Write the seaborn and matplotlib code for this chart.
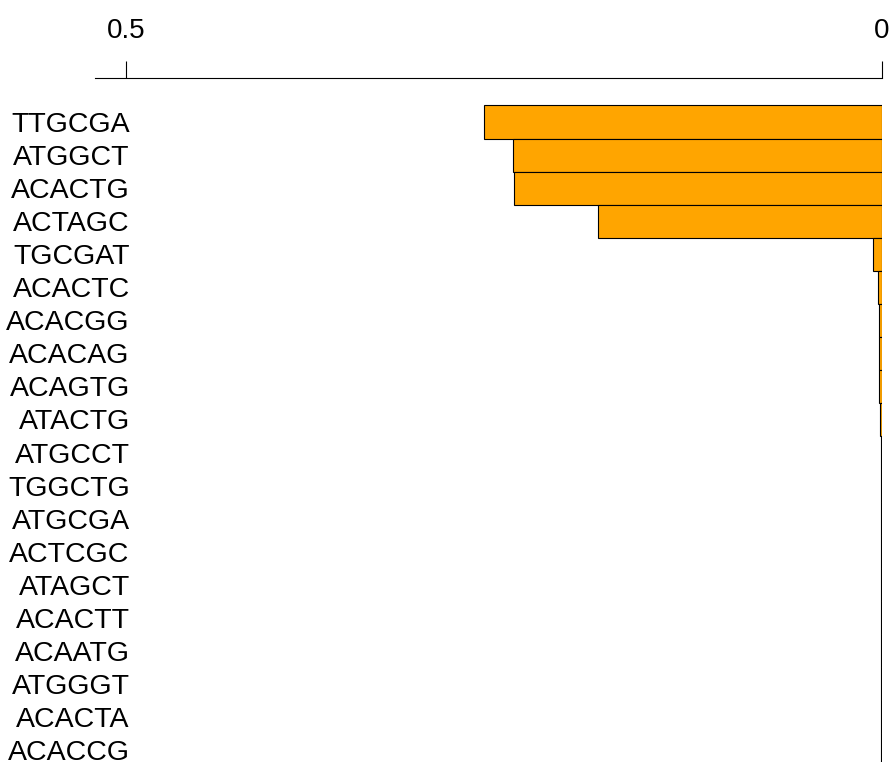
import matplotlib
matplotlib.use("Agg")
import matplotlib.pyplot as plt
import seaborn as sns
import pandas as pd

# motifs, top to bottom
motifs = ["TTGCGA", "ATGGCT", "ACACTG", "ACTAGC", "TGCGAT", "ACACTC", "ACACGG",
          "ACACAG", "ACAGTG", "ATACTG", "ATGCCT", "TGGCTG", "ATGCGA", "ACTCGC",
          "ATAGCT", "ACACTT", "ACAATG", "ATGGGT", "ACACTA", "ACACCG"]
scores = [0.263, 0.2436, 0.2434, 0.1877, 0.0058, 0.0021, 0.0018,
          0.0016, 0.0015, 0.0007, 0.0006, 0.0006, 0.0005, 0.0005,
          0.0005, 0.0004, 0.0004, 0.0004, 0.0004, 0.0004]
xticks = [0.5, 0]
xticklabels = ["0.5", "0"]

df = pd.DataFrame({"motif": motifs, "score": scores})

sns.set_style("white")
plt.rcParams["font.family"] = ["Liberation Sans", "DejaVu Sans"]

fig = plt.figure(figsize=(8.89, 7.62), dpi=100)
ax = fig.add_axes([95 / 889, 0, 786.5 / 889, 1 - 78 / 762])

sns.barplot(data=df, x="score", y="motif", orient="h", color="#FFA500",
            saturation=1, edgecolor="black", linewidth=0.8, width=1, ax=ax)

ax.set_xlim(0.5205, 0)
ax.set_ylim(19.363, -1.332)

ax.xaxis.tick_top()
ax.set_xticks(xticks)
ax.set_xticklabels(xticklabels, fontsize=20)
ax.tick_params(axis="x", direction="out", length=12.2, width=0.8, pad=12,
               color="black", labelcolor="black")
ax.tick_params(axis="y", length=0, pad=-25, labelsize=20.5, labelcolor="black")
for lab in ax.get_yticklabels():
    lab.set_horizontalalignment("right")

for s in ["left", "right", "bottom"]:
    ax.spines[s].set_visible(False)
ax.spines["top"].set_color("black")
ax.spines["top"].set_linewidth(0.8)
ax.set_xlabel("")
ax.set_ylabel("")

fig.savefig("out.png", dpi=100)
